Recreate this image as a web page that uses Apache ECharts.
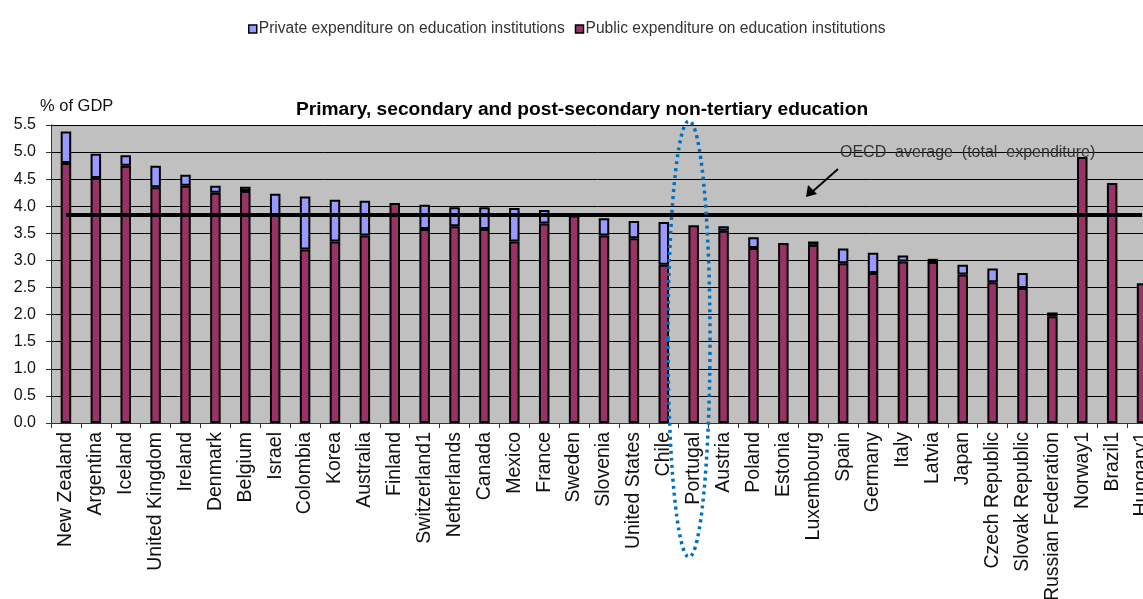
<!DOCTYPE html>
<html>
<head>
<meta charset="utf-8">
<title>Expenditure on education institutions as % of GDP</title>
<script src="https://cdn.jsdelivr.net/npm/echarts@6/dist/echarts.min.js"></script>
<style>
  html, body { margin: 0; padding: 0; background: #ffffff; }
  #chart { width: 1143px; height: 599px; }
</style>
</head>
<body>
<div id="chart"></div>
<script>
// Countries, sorted by total expenditure (footnote 1 = public only)
const countries = [
  'New Zealand', 'Argentina', 'Iceland', 'United Kingdom', 'Ireland', 'Denmark',
  'Belgium', 'Israel', 'Colombia', 'Korea', 'Australia', 'Finland', 'Switzerland1',
  'Netherlands', 'Canada', 'Mexico', 'France', 'Sweden', 'Slovenia', 'United States',
  'Chile', 'Portugal', 'Austria', 'Poland', 'Estonia', 'Luxembourg', 'Spain',
  'Germany', 'Italy', 'Latvia', 'Japan', 'Czech Republic', 'Slovak Republic',
  'Russian Federation', 'Norway1', 'Brazil1', 'Hungary1'
];

// Public expenditure on education institutions (% of GDP)
const publicExp = [
  4.80, 4.52, 4.75, 4.35, 4.38, 4.25, 4.28, 3.84, 3.20, 3.35, 3.46, 4.06, 3.58,
  3.63, 3.58, 3.35, 3.68, 3.83, 3.46, 3.41, 2.92, 3.65, 3.55, 3.23, 3.32, 3.29,
  2.95, 2.77, 2.98, 2.97, 2.74, 2.60, 2.49, 1.97, 4.91, 4.43, 2.58
];

// Private expenditure on education institutions (% of GDP); null = not shown
const privateExp = [
  0.58, 0.45, 0.19, 0.40, 0.20, 0.13, 0.08, 0.39, 0.98, 0.77, 0.64, null, 0.45,
  0.35, 0.40, 0.62, 0.25, null, 0.32, 0.32, 0.79, null, 0.08, 0.20, null, 0.06,
  0.27, 0.37, 0.11, 0.06, 0.18, 0.25, 0.28, 0.07, null, null, null
];

// OECD average of total expenditure
const oecdAverage = 3.84;

const yTicks = { min: 0, max: 5.5, interval: 0.5 };

const PRIVATE = 'Private expenditure on education institutions';
const PUBLIC = 'Public expenditure on education institutions';
const FONT = '"Liberation Sans", Arial, sans-serif';

const chart = echarts.init(document.getElementById('chart'), null, { renderer: 'canvas' });

chart.setOption({
  animation: false,
  backgroundColor: '#ffffff',
  textStyle: { fontFamily: FONT },
  title: [
    {
      text: 'Primary, secondary and post-secondary non-tertiary education',
      left: 577, top: 95, textAlign: 'center',
      textStyle: { fontFamily: FONT, fontSize: 19.2, fontWeight: 'bold', color: '#000000' }
    },
    {
      text: '% of GDP',
      left: 35, top: 93,
      textStyle: { fontFamily: FONT, fontSize: 16.5, fontWeight: 'normal', color: '#111111' }
    }
  ],
  legend: {
    data: [PRIVATE, PUBLIC],
    top: 16, left: 243,
    icon: 'rect', itemWidth: 8, itemHeight: 8, itemGap: 10,
    textStyle: { fontFamily: FONT, fontSize: 15.6, color: '#333333', padding: [0, 0, 0, -3] },
    itemStyle: { borderColor: '#000000', borderWidth: 1.5 }
  },
  grid: {
    left: 51, top: 125, width: 1106, height: 298,
    outerBoundsMode: 'none',
    containLabel: false,
    show: true, backgroundColor: '#c0c0c0', borderWidth: 0
  },
  xAxis: {
    type: 'category',
    data: countries,
    axisLine: { lineStyle: { color: '#333333', width: 1 } },
    axisTick: { show: true, length: 5, lineStyle: { color: '#333333' } },
    axisLabel: {
      rotate: 90, interval: 0, margin: 9,
      fontFamily: FONT, fontSize: 19.5, color: '#111111'
    }
  },
  yAxis: {
    type: 'value',
    min: yTicks.min, max: yTicks.max, interval: yTicks.interval,
    axisLine: { show: true, lineStyle: { color: '#333333', width: 1 } },
    axisTick: { show: true, length: 5, lineStyle: { color: '#333333' } },
    axisLabel: {
      margin: 15, fontFamily: FONT, fontSize: 16, color: '#111111',
      formatter: v => v.toFixed(1)
    },
    splitLine: { lineStyle: { color: '#000000', width: 1 } }
  },
  series: [
    {
      name: PUBLIC, type: 'bar', stack: 'total', data: publicExp,
      barWidth: 10.5,
      itemStyle: { color: '#993366', borderColor: '#000000', borderWidth: 2 }
    },
    {
      name: PRIVATE, type: 'bar', stack: 'total', data: privateExp,
      barWidth: 10.5,
      itemStyle: { color: '#9999ff', borderColor: '#000000', borderWidth: 2 }
    },
    {
      name: 'OECD average', type: 'line',
      data: countries.map(() => oecdAverage),
      symbol: 'none', z: 5,
      lineStyle: { color: '#000000', width: 4 },
      tooltip: { show: false }
    }
  ],
  graphic: [
    {
      type: 'text', left: 840, top: 145, z: 10,
      style: {
        text: 'OECD  average  (total  expenditure)',
        font: '16px "Liberation Sans", Arial, sans-serif',
        fill: '#333333'
      }
    },
    {
      type: 'line', z: 10,
      shape: { x1: 838, y1: 169, x2: 812, y2: 192 },
      style: { stroke: '#000000', lineWidth: 2 }
    },
    {
      type: 'polygon', z: 10,
      shape: { points: [[806, 197], [808, 185], [817, 194]] },
      style: { fill: '#000000' }
    },
    {
      type: 'ellipse', z: 20,
      shape: { cx: 689, cy: 339, rx: 21, ry: 218 },
      style: {
        fill: 'none', stroke: '#0070c0', lineWidth: 3.5,
        lineDash: [3, 4]
      }
    }
  ]
});
</script>
</body>
</html>
